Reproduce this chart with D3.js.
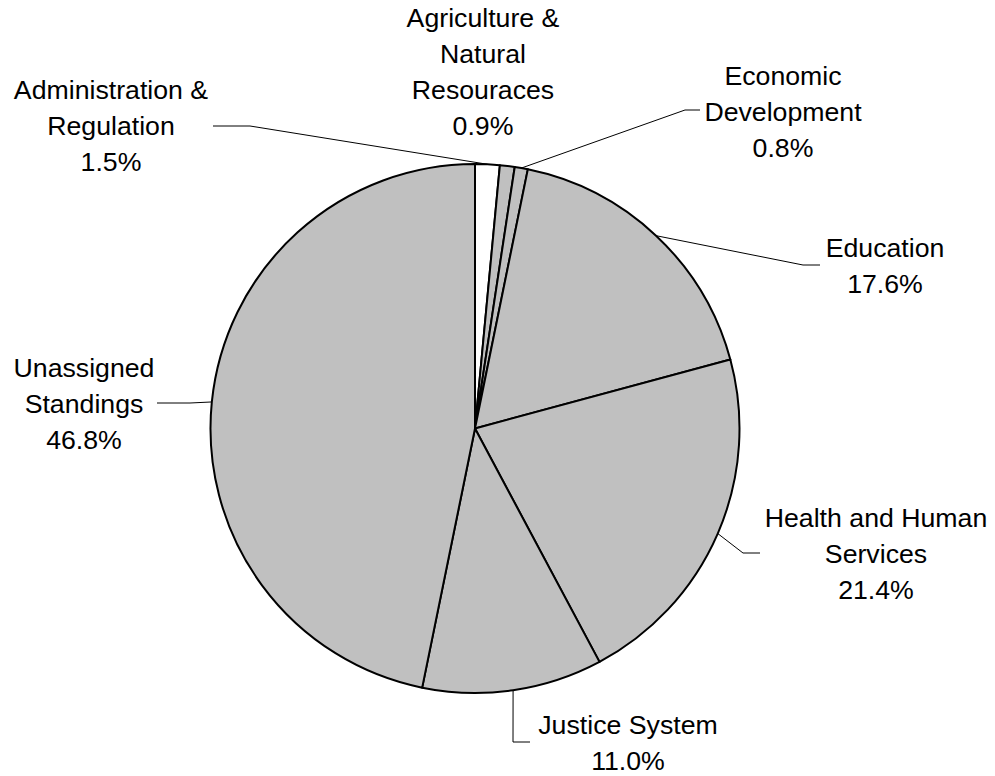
<!DOCTYPE html>
<html>
<head>
<meta charset="utf-8">
<script src="https://cdn.jsdelivr.net/npm/d3@7"></script>
<style>
  body { margin: 0; background: #fff; }
  svg { display: block; }
</style>
</head>
<body>
<script>
// slices clockwise from 12 o'clock
const categories = ["Administration & Regulation", "Agriculture & Natural Resouraces", "Economic Development",
  "Education", "Health and Human Services", "Justice System", "Unassigned Standings"];
const shares = [1.5, 0.9, 0.8, 17.6, 21.4, 11.0, 46.8];
const fills = ["#ffffff", "#c0c0c0", "#c0c0c0", "#c0c0c0", "#c0c0c0", "#c0c0c0", "#c0c0c0"];
// label text lines
const labelLines = [
  ["Administration &", "Regulation"],
  ["Agriculture &", "Natural", "Resouraces"],
  ["Economic", "Development"],
  ["Education"],
  ["Health and Human", "Services"],
  ["Justice System"],
  ["Unassigned", "Standings"]
];

const width = 995, height = 776;
const cx = 475, cy = 428.5, radius = 264.5;

// label placement (x centre, first baseline) and leader elbow/end points
const labelPos = [
  {x: 111, y: 99,  elbow: [250, 126], end: [213, 126]},
  {x: 483, y: 27,  elbow: null, end: null},
  {x: 783, y: 85,  elbow: [685, 110], end: [700, 110]},
  {x: 885, y: 257, elbow: [803, 265], end: [820, 265]},
  {x: 876, y: 527, elbow: [743, 553], end: [760, 553]},
  {x: 628, y: 734, elbow: [513, 742], end: [530, 742]},
  {x: 84,  y: 377, elbow: [190, 403], end: [157, 403]}
];

const data = categories.map((c, i) => ({name: c, value: shares[i], i: i}));

const svg = d3.select("body").append("svg")
  .attr("width", width)
  .attr("height", height);

const pie = d3.pie().sort(null).value(d => d.value);
const arc = d3.arc().innerRadius(0).outerRadius(radius);
const arcs = pie(data);

const g = svg.append("g").attr("transform", "translate(" + cx + "," + cy + ")");

g.selectAll("path")
  .data(arcs)
  .enter()
  .append("path")
  .attr("d", arc)
  .attr("fill", d => fills[d.data.i])
  .attr("stroke", "#000")
  .attr("stroke-width", 2)
  .attr("stroke-linejoin", "round");

// leader lines
arcs.forEach(d => {
  const p = labelPos[d.data.i];
  if (!p.elbow) return;
  const a = (d.startAngle + d.endAngle) / 2;
  const sx = cx + radius * Math.sin(a), sy = cy - radius * Math.cos(a);
  svg.append("polyline")
    .attr("points", [[sx, sy], p.elbow, p.end].map(q => q.join(",")).join(" "))
    .attr("fill", "none")
    .attr("stroke", "#000")
    .attr("stroke-width", 1);
});

// labels
const lineH = 36;
arcs.forEach(d => {
  const p = labelPos[d.data.i];
  const lines = labelLines[d.data.i].concat([d3.format(".1f")(d.data.value) + "%"]);
  const t = svg.append("text")
    .attr("text-anchor", "middle")
    .style("font-family", "'Liberation Sans', Arial, sans-serif")
    .style("font-size", "26.7px")
    .attr("fill", "#000");
  lines.forEach((s, k) => {
    t.append("tspan").attr("x", p.x).attr("y", p.y + k * lineH).text(s);
  });
});
</script>
</body>
</html>
